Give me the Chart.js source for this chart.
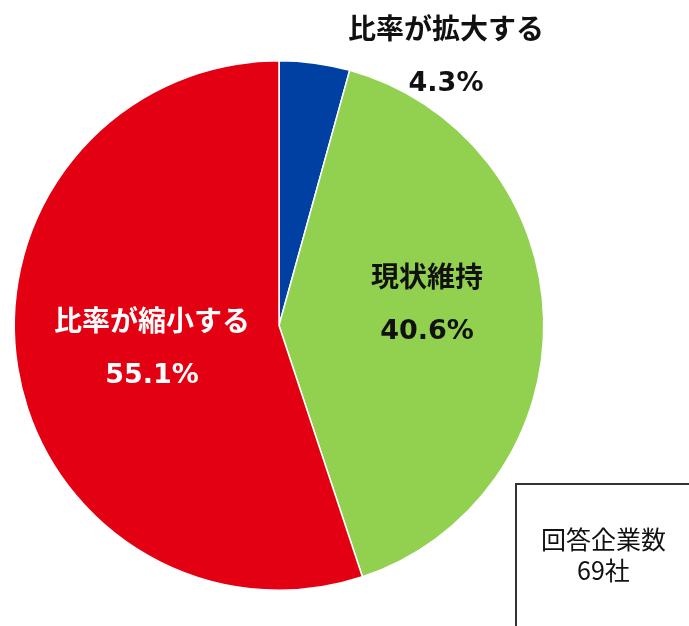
<!DOCTYPE html>
<html>
<head>
<meta charset="utf-8">
<script src="https://cdn.jsdelivr.net/npm/chart.js@4"></script>
<style>
  html, body { margin: 0; padding: 0; background: #fff; overflow: hidden; }
  #wrap { position: relative; width: 689px; height: 626px; }
  #note {
    position: absolute; left: 515px; top: 483px; width: 177px; height: 200px;
    border: 2px solid #333; box-sizing: border-box;
    font-family: "Noto Sans CJK JP", sans-serif; font-size: 25px; color: #111;
    text-align: center; padding-top: 38px; line-height: 31px;
  }
</style>
</head>
<body>
<div id="wrap">
  <canvas id="myChart" width="689" height="626"></canvas>
  <div id="note">回答企業数<br>69社</div>
</div>
<script>
var categories = ['比率が拡大する', '現状維持', '比率が縮小する'];
var shares = [4.3, 40.6, 55.1];
var sliceColors = ['#0040A2', '#92D050', '#E20012'];
var labelColors = ['#111', '#111', '#fff'];
// label centre relative to pie centre, px
var labelOffsets = [[167, -270], [148, -22], [-127, 22]];

var sliceLabels = {
  id: 'sliceLabels',
  afterDatasetsDraw: function (chart) {
    var ctx = chart.ctx;
    var arcs = chart.getDatasetMeta(0).data;
    ctx.save();
    ctx.textAlign = 'center';
    ctx.textBaseline = 'middle';
    arcs.forEach(function (arc, i) {
      var x = arc.x + labelOffsets[i][0];
      var y = arc.y + labelOffsets[i][1];
      ctx.fillStyle = labelColors[i];
      ctx.font = 'bold 28px "Noto Sans CJK JP", sans-serif';
      ctx.fillText(categories[i], x, y - 27);
      ctx.font = 'bold 27px "DejaVu Sans", sans-serif';
      ctx.fillText(shares[i].toFixed(1) + '%', x, y + 28);
    });
    ctx.restore();
  }
};

var ctx = document.getElementById('myChart');
var myChart = new Chart(ctx, {
  type: 'pie',
  data: {
    labels: categories,
    datasets: [{
      data: shares,
      backgroundColor: sliceColors,
      borderColor: '#fff',
      borderWidth: 1.5
    }]
  },
  options: {
    responsive: false,
    animation: false,
    layout: { padding: { left: 13, top: 60, right: 144, bottom: 35 } },
    plugins: {
      legend: { display: false },
      tooltip: { enabled: false }
    }
  },
  plugins: [sliceLabels]
});
</script>
</body>
</html>
